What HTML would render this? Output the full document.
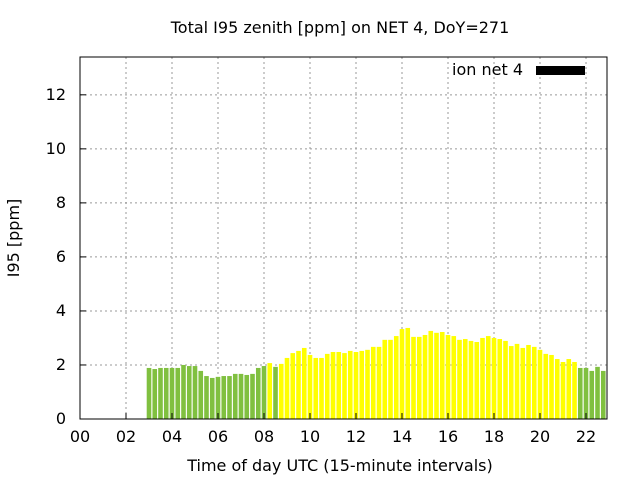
<!DOCTYPE html>
<html><head><meta charset="utf-8"><style>
body{margin:0;background:#fff;}
svg text{font-family:"DejaVu Sans","Liberation Sans",sans-serif;font-size:16px;fill:#000;}
</style></head><body>
<svg id="chart" width="640" height="480" xmlns="http://www.w3.org/2000/svg">
<text x="340" y="33" text-anchor="middle">Total I95 zenith [ppm] on NET 4, DoY=271</text>
<text x="340" y="471" text-anchor="middle">Time of day UTC (15-minute intervals)</text>
<text transform="translate(19,238) rotate(-90)" text-anchor="middle">I95 [ppm]</text>
<g id="grid"></g><g id="bars"></g><g id="axes"></g>
<text x="523" y="75" text-anchor="end">ion net 4</text>
<rect x="536" y="66" width="49" height="9" fill="#000"/>
</svg>
<script>
const intervals=[12,13,14,15,16,17,18,19,20,21,22,23,24,25,26,27,28,29,30,31,32,33,34,35,36,37,38,39,40,41,42,43,44,45,46,47,48,49,50,51,52,53,54,55,56,57,58,59,60,61,62,63,64,65,66,67,68,69,70,71,72,73,74,75,76,77,78,79,80,81,82,83,84,85,86,87,88,89,90,91];
const values=[1.89,1.85,1.89,1.89,1.89,1.89,2.0,1.96,1.96,1.78,1.59,1.52,1.56,1.59,1.59,1.67,1.67,1.63,1.67,1.89,1.96,2.07,1.93,2.04,2.26,2.44,2.52,2.63,2.37,2.26,2.26,2.41,2.48,2.48,2.44,2.52,2.48,2.52,2.56,2.67,2.67,2.93,2.93,3.07,3.33,3.37,3.04,3.04,3.11,3.26,3.19,3.22,3.11,3.07,2.93,2.96,2.89,2.85,3.0,3.07,3.0,2.96,2.89,2.70,2.78,2.63,2.74,2.67,2.56,2.41,2.37,2.22,2.11,2.22,2.11,1.89,1.89,1.78,1.93,1.78];
const greenIntervals=[12,13,14,15,16,17,18,19,20,21,22,23,24,25,26,27,28,29,30,31,32,34,87,88,89,90,91];
const yTicks=[0,2,4,6,8,10,12];
const xTickLabels=["00","02","04","06","08","10","12","14","16","18","20","22"];
const L=80,R=607,T=57,B=419,XMAX=91.65,YMAX=13.4;
const X=v=>L+v*(R-L)/XMAX, Y=v=>B-v*(B-T)/YMAX;
const NS="http://www.w3.org/2000/svg";
function mk(p,tag,a){const e=document.createElementNS(NS,tag);for(const k in a)e.setAttribute(k,a[k]);document.getElementById(p).appendChild(e);return e;}
yTicks.forEach(t=>{
  if(t>0){const g=mk('grid','line',{x1:L,x2:R,y1:Y(t),y2:Y(t),stroke:'#999','stroke-dasharray':'2,3'});
  
  }
  const tk=mk('axes','line',{x1:L,x2:L+6,y1:Y(t),y2:Y(t),stroke:'#000'});
  
  
  const tx=mk('axes','text',{x:L-14,y:Y(t)+5,'text-anchor':'end'});tx.textContent=t;
  
  
});
xTickLabels.forEach((lab,i)=>{
  const v=i*8,x=X(v);
  if(i>0){const g=mk('grid','line',{x1:x,x2:x,y1:T,y2:B,stroke:'#999','stroke-dasharray':'2,3'});
  
  }
  const tk=mk('axes','line',{x1:x,x2:x,y1:B,y2:B-6,stroke:'#000'});
  
  
  const tx=mk('axes','text',{x:x,y:B+23,'text-anchor':'middle'});tx.textContent=lab;
  
  
});
intervals.forEach((iv,k)=>{
  const g=greenIntervals.includes(iv);
  const b=mk('bars','rect',{x:X(iv)-2.3,y:Y(values[k]),width:4.6,height:B-Y(values[k]),fill:g?'#80c040':'#ffff00'});
  
  
});
const fr=mk('axes','rect',{x:L,y:T,width:R-L,height:B-T,fill:'none',stroke:'#000'});


</script>
</body></html>
